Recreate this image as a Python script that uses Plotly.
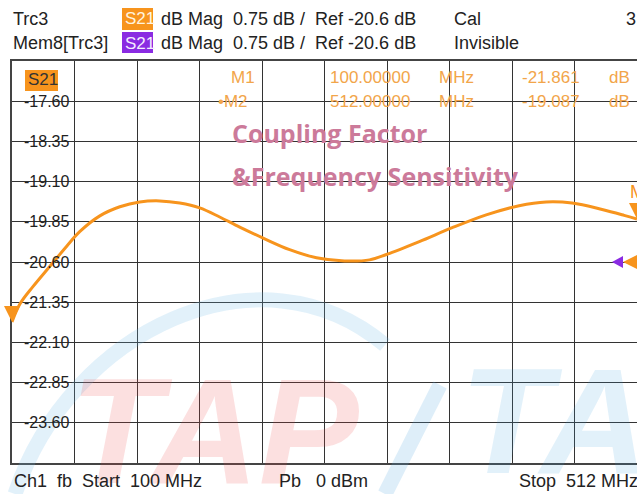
import plotly.graph_objects as go

# ---------------- data ----------------
freq_mhz = [100, 105.3, 113.8, 125.0, 136.2, 144.8, 157.9, 171.1, 184.2, 197.4,
            210.6, 223.7, 236.9, 250.1, 265.2, 283.0, 300.7, 319.2, 335.7, 346.8,
            368.5, 390.2, 412.6, 434.3, 452.1, 469.2, 489.0, 503.5, 512]
s21_db = [-21.72, -21.38, -21.06, -20.68, -20.30, -20.03, -19.74, -19.57, -19.48, -19.46,
          -19.50, -19.59, -19.76, -19.95, -20.15, -20.37, -20.52, -20.58, -20.56, -20.46,
          -20.22, -19.96, -19.72, -19.55, -19.48, -19.50, -19.62, -19.73, -19.80]
y_tick_values = [-17.60, -18.35, -19.10, -19.85, -20.60, -21.35, -22.10, -22.85, -23.60]
y_tick_labels = ["-17.60", "-18.35", "-19.10", "-19.85", "-20.60", "-21.35", "-22.10", "-22.85", "-23.60"]
START_MHZ = 100
STOP_MHZ = 512
REF_DB = -20.6
SCALE_DB = 0.75
marker_names = ["M1", "M2"]
marker_freq_text = ["100.00000", "512.00000"]
marker_val_text = ["-21.861", "-19.087"]

# ---------------- geometry ----------------
W, H = 637, 494
L, R, T, B = 12, 0, 61, 31
PW, PH = W - L - R, H - T - B
Y_MIN, Y_MAX = REF_DB - 5 * SCALE_DB, REF_DB + 5 * SCALE_DB


def px(x):
    return (x - L) / PW


def py(y):
    return (H - B - y) / PH


def fx(f):  # data frequency -> paper fraction (same mapping as the x axis)
    return (f - START_MHZ) / (STOP_MHZ - START_MHZ)


def fy(v):  # data dB -> paper fraction (same mapping as the y axis)
    return (v - Y_MIN) / (Y_MAX - Y_MIN)


FONT = "Liberation Sans, Arial, sans-serif"
ORANGE = "#f7941d"
ORANGE_TXT = "#f2a54a"
PURPLE = "#8a2be2"
DARK = "#222222"

fig = go.Figure()
fig.add_trace(go.Scatter(
    x=freq_mhz, y=s21_db, mode="lines", line=dict(color=ORANGE, width=3, shape="spline", smoothing=1.0),
    hoverinfo="skip", showlegend=False))

ann = []
shapes = []

# faint watermark (drawn first)
shapes.append(dict(type="path", xref="paper", yref="paper",
                   path=(f"M {px(15)},{py(494)} C {px(70)},{py(330)} {px(260)},{py(240)} {px(385)},{py(345)}"),
                   line=dict(color="rgba(110,185,230,0.20)", width=15), layer="above"))
shapes.append(dict(type="path", xref="paper", yref="paper",
                   path=f"M {px(385)},{py(494)} L {px(440)},{py(385)}",
                   line=dict(color="rgba(90,170,225,0.20)", width=15), layer="above"))
ann.append(dict(xref="paper", yref="paper", x=px(215), y=py(345), text="<i><b>TAP</b></i>", showarrow=False,
                xanchor="center", yanchor="top",
                font=dict(family="Liberation Sans", size=150, color="rgba(240,70,70,0.17)")))
ann.append(dict(xref="paper", yref="paper", x=px(458), y=py(335), text="<i><b>TAP</b></i>", showarrow=False,
                xanchor="left", yanchor="top",
                font=dict(family="Liberation Sans", size=150, color="rgba(60,160,220,0.15)")))

# y tick labels inside plot with white gap in grid line
for v, t in zip(y_tick_values, y_tick_labels):
    shapes.append(dict(type="rect", xref="paper", yref="y", x0=px(19), x1=px(71), y0=v - 0.03, y1=v + 0.03,
                       fillcolor="white", line=dict(width=0), layer="between"))
    ann.append(dict(xref="paper", yref="y", x=px(22), y=v, text=t, showarrow=False, xanchor="left",
                    yanchor="middle", font=dict(family=FONT, size=16, color=DARK)))


def txt(x, y, s, size=18, color=DARK, anchor="left", family=FONT, weight="normal"):
    ann.append(dict(xref="paper", yref="paper", x=px(x), y=py(y), text=s, showarrow=False, xanchor=anchor,
                    yanchor="middle", font=dict(family=family, size=size, color=color, weight=weight)))


def box(x0, y0, x1, y1, color):
    shapes.append(dict(type="rect", xref="paper", yref="paper", x0=px(x0), x1=px(x1), y0=py(y1), y1=py(y0),
                       fillcolor=color, line=dict(width=0), layer="above"))


# header rows
txt(11, 19, "Trc3")
box(122, 8, 153, 30, ORANGE)
txt(123, 19, "S21", size=17, color="#fff4e0")
txt(159, 19, "dB Mag  0.75 dB /  Ref -20.6 dB")
txt(452, 19, "Cal")
txt(624, 19, "3")

txt(11, 43, "Mem8[Trc3]")
box(122, 32, 153, 53, PURPLE)
txt(123, 43, "S21", size=17, color="#f4ecff")
txt(159, 43, "dB Mag  0.75 dB /  Ref -20.6 dB")
txt(452, 43, "Invisible")

# trace label in plot
box(25, 70, 58, 91, ORANGE)
txt(26, 80, "S21", size=17, color="#333333")

# marker table
for i, (n, f, v) in enumerate(zip(marker_names, marker_freq_text, marker_val_text)):
    yy = 78 + i * 23
    txt(229 if i == 0 else 216, yy, n if i == 0 else "\u2022" + n, size=17, color=ORANGE_TXT)
    txt(328, yy, f, size=17, color=ORANGE_TXT)
    txt(437, yy, "MHz", size=17, color=ORANGE_TXT)
    txt(520, yy, v, size=17, color=ORANGE_TXT)
    txt(607, yy, "dB", size=17, color=ORANGE_TXT)

# overlay title
txt(230, 133, "Coupling Factor", size=25, color="#cc7a9a", family="Open Sans", weight="bold")
txt(230, 176, "&Frequency Sensitivity", size=25, color="#cc7a9a", family="Open Sans", weight="bold")

# bottom text
txt(12, 481, "Ch1  fb  Start  100 MHz")
txt(277, 481, "Pb   0 dBm")
txt(517, 481, "Stop  512 MHz")

# markers (triangles pointing down to the trace)
for xa, ya in [(freq_mhz[0], s21_db[0]), (freq_mhz[-1], s21_db[-1])]:
    shapes.append(dict(type="path", xref="paper", yref="paper", xsizemode="pixel", ysizemode="pixel",
                       xanchor=fx(xa), yanchor=fy(ya), path="M 0,0 L -8,16 L 8,16 Z",
                       fillcolor=ORANGE, line=dict(width=0), layer="above"))
ann.append(dict(xref="paper", yref="paper", x=fx(freq_mhz[-1]), y=fy(s21_db[-1]), text="M2", showarrow=False,
                xanchor="left", yanchor="bottom", xshift=-9, yshift=15,
                font=dict(family=FONT, size=18, color=ORANGE)))

# reference-level indicators
shapes.append(dict(type="path", xref="paper", yref="paper", xsizemode="pixel", ysizemode="pixel",
                   xanchor=fx(STOP_MHZ), yanchor=fy(REF_DB), path="M -25,0 L -14,6 L -14,-6 Z",
                   fillcolor=PURPLE, line=dict(width=0), layer="above"))
shapes.append(dict(type="path", xref="paper", yref="paper", xsizemode="pixel", ysizemode="pixel",
                   xanchor=fx(STOP_MHZ), yanchor=fy(REF_DB), path="M -14,0 L 2,8 L 2,-8 Z",
                   fillcolor=ORANGE, line=dict(width=0), layer="above"))

fig.update_layout(
    width=W, height=H, margin=dict(l=L, r=R, t=T, b=B),
    paper_bgcolor="white", plot_bgcolor="white",
    xaxis=dict(range=[START_MHZ, STOP_MHZ], tick0=START_MHZ, dtick=(STOP_MHZ - START_MHZ) / 10,
               showgrid=True, gridcolor="#333333", gridwidth=1, showticklabels=False, ticks="",
               showline=True, linecolor="#444444", linewidth=1.5, mirror=True, zeroline=False, fixedrange=True),
    yaxis=dict(range=[Y_MIN, Y_MAX], tick0=REF_DB, dtick=SCALE_DB,
               showgrid=True, gridcolor="#333333", gridwidth=1, showticklabels=False, ticks="",
               showline=True, linecolor="#444444", linewidth=1.5, mirror=False, zeroline=False, fixedrange=True),
    annotations=ann, shapes=shapes, showlegend=False,
)

fig.write_html("out.html", config={"displayModeBar": False},
               post_script="document.body.style.margin='0';document.body.style.overflow='hidden';")
